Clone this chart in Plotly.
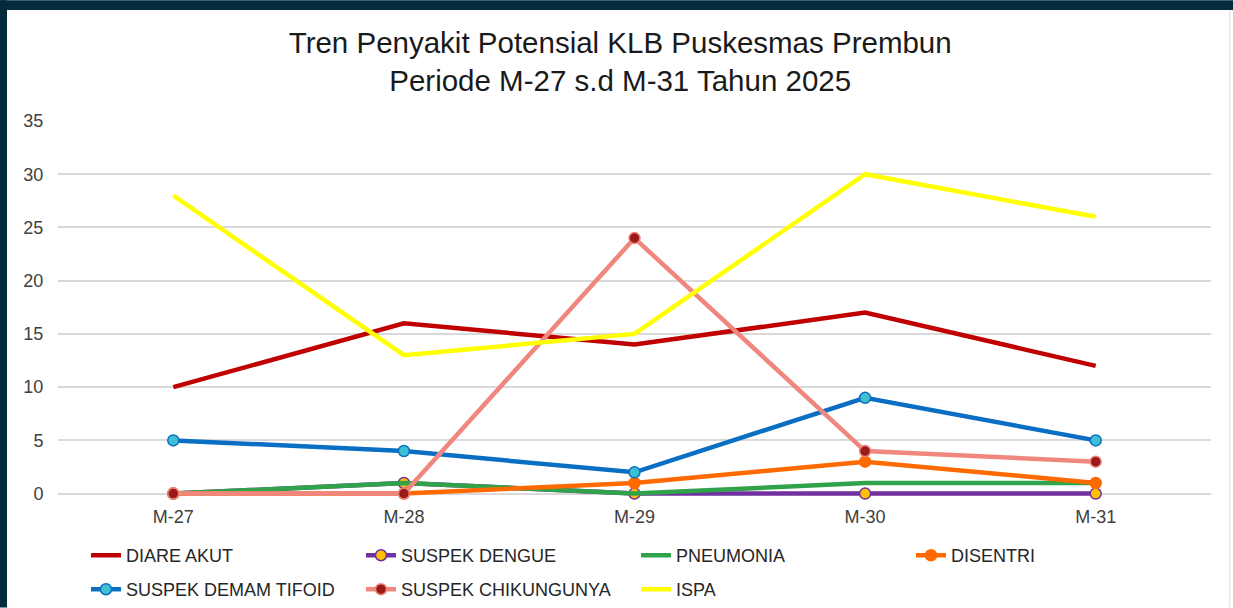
import plotly.graph_objects as go

categories = ["M-27", "M-28", "M-29", "M-30", "M-31"]
diare_akut = [10, 16, 14, 17, 12]
suspek_dengue = [0, 1, 0, 0, 0]
pneumonia = [0, 1, 0, 1, 1]
disentri = [0, 0, 1, 3, 1]
suspek_tifoid = [5, 4, 2, 9, 5]
suspek_chikungunya = [0, 0, 24, 4, 3]
ispa = [28, 13, 15, 30, 26]
y_ticks = [0, 5, 10, 15, 20, 25, 30, 35]

FONT = "Liberation Sans, Arial, sans-serif"

series = [
    ("DIARE AKUT", diare_akut, "#C00000", None, None, "legend"),
    ("SUSPEK DENGUE", suspek_dengue, "#7030A0", "#FFC000", "#7030A0", "legend"),
    ("PNEUMONIA", pneumonia, "#30A24A", None, None, "legend"),
    ("DISENTRI", disentri, "#FF6A00", "#FF6A00", "#FF6A00", "legend"),
    ("SUSPEK DEMAM TIFOID", suspek_tifoid, "#0A6FC2", "#3FC0D2", "#0A6FC2", "legend2"),
    ("SUSPEK CHIKUNGUNYA", suspek_chikungunya, "#F0877E", "#9A1A18", "#F0877E", "legend2"),
    ("ISPA", ispa, "#FFFF00", None, None, "legend2"),
]

fig = go.Figure()
for name, vals, color, mfill, mline, leg in series:
    if mfill is None:
        fig.add_trace(go.Scatter(
            x=categories, y=vals, name=name, mode="lines", legend=leg,
            line=dict(color=color, width=4.5), cliponaxis=False))
    else:
        fig.add_trace(go.Scatter(
            x=categories, y=vals, name=name, mode="lines+markers", legend=leg,
            line=dict(color=color, width=4.5),
            marker=dict(size=11, color=mfill, line=dict(color=mline, width=1.5)),
            cliponaxis=False))

W, H = 1233, 608
y_min, y_max = -0.6, 35
unit_px = 373 / 35.0
ml, mr, mt = 58, 22, 121
mb = 114 - (-y_min) * unit_px
pw, ph = W - ml - mr, H - mt - mb

def px_x(x):
    return (x - ml) / pw

def px_y(y):
    return 1 - (y - mt) / ph

shapes = [
    dict(type="rect", xref="paper", yref="paper", x0=px_x(0), x1=px_x(W), y0=px_y(10), y1=px_y(0),
         fillcolor="#042A3D", line=dict(width=0), layer="above"),
    dict(type="rect", xref="paper", yref="paper", x0=px_x(0), x1=px_x(7), y0=px_y(H), y1=px_y(0),
         fillcolor="#042A3D", line=dict(width=0), layer="above"),
    dict(type="rect", xref="paper", yref="paper", x0=px_x(1229), x1=px_x(1230.5), y0=px_y(H), y1=px_y(10),
         fillcolor="#E6E6E6", line=dict(width=0), layer="below"),
]

legend_common = dict(
    orientation="h", xanchor="left", yanchor="middle",
    entrywidth=230, entrywidthmode="pixels", traceorder="normal",
    font=dict(family=FONT, size=18, color="#262626"),
    bgcolor="rgba(0,0,0,0)",
)

fig.update_layout(
    width=W, height=H,
    margin=dict(l=ml, r=mr, t=mt, b=mb, pad=0, autoexpand=False),
    paper_bgcolor="white", plot_bgcolor="white",
    font=dict(family=FONT, size=18, color="#404040"),
    title=dict(
        text="Tren Penyakit Potensial KLB Puskesmas Prembun<br>Periode M-27 s.d M-31 Tahun 2025",
        x=0.503, xanchor="center", y=1 - 53 / H, yanchor="middle",
        font=dict(family=FONT, size=29.5, color="#1a1a1a"),
    ),
    xaxis=dict(
        type="category", range=[-0.5, 4.5], showgrid=False, zeroline=False,
        showline=False, ticks="outside", ticklen=0.5, tickcolor="rgba(0,0,0,0)",
        tickfont=dict(size=18, color="#404040"),
    ),
    yaxis=dict(
        range=[y_min, y_max], tickvals=y_ticks, showgrid=True, gridcolor="#D9D9D9", gridwidth=2,
        zeroline=False, showline=False, ticks="outside", ticklen=10, tickcolor="rgba(0,0,0,0)",
        tickfont=dict(size=18, color="#404040"),
    ),
    legend=dict(x=px_x(86), y=px_y(556), **legend_common),
    legend2=dict(x=px_x(86), y=px_y(590), **legend_common),
    shapes=shapes,
    showlegend=True,
)

fig.write_html(
    "out.html",
    config={"displayModeBar": False},
    post_script="document.body.style.margin='0';document.body.style.overflow='hidden';",
)
